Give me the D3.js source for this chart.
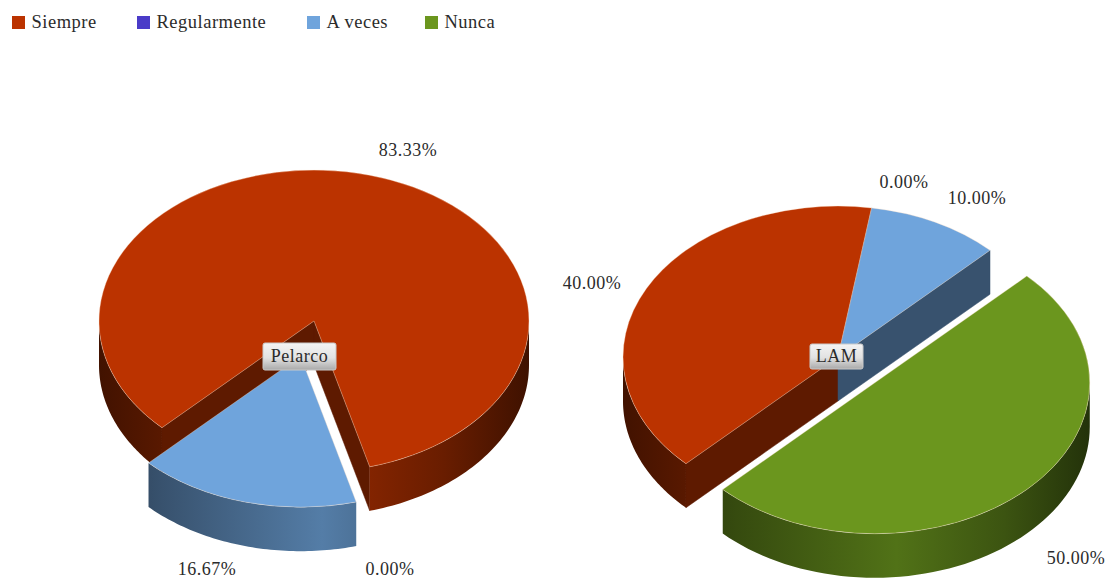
<!DOCTYPE html>
<html><head><meta charset="utf-8">
<script src="https://cdn.jsdelivr.net/npm/d3@7/dist/d3.min.js"></script>
<style>html,body{margin:0;padding:0;background:#fff;overflow:hidden}svg{display:block}
text{font-family:"Liberation Serif",serif;fill:#2b2b2b;letter-spacing:.5px}</style>
</head><body><svg id="c" width="1110" height="579"></svg>
<script>
const categories = ["Siempre","Regularmente","A veces","Nunca"];
const colors = ["#bb3300","#4a3bc8","#6fa4dc","#6b961e"];
const pelarcoValues = [83.33,0,16.67,0];
const lamValues = [40,0,10,50];
const pelarcoLabels = ["83.33%","0.00%","16.67%",null];
const lamLabels = ["40.00%","0.00%","10.00%","50.00%"];

const legendX = [12,137,307,425];
const svg = d3.select("#c"), defs = svg.append("defs");
const K = 0.702, DEPTH = 44, EXPLODE = 52, START = 5*Math.PI/4;
const pie = d3.pie().sort(null).value(d=>d).startAngle(START).endAngle(START+2*Math.PI);

const charts = [
 {name:"Pelarco",values:pelarcoValues,labels:pelarcoLabels,cx:314,cy:321,r:215,exploded:2,
  labelPos:[[408,156],[390,575],[207,575],null],box:[263,343,73,27]},
 {name:"LAM",values:lamValues,labels:lamLabels,cx:838,cy:357,r:215,exploded:3,
  labelPos:[[592,289],[904,188],[977,204],[1076,564]],box:[810,344,53,25]}
];

function shade(c,f){const o=d3.rgb(c);return d3.rgb(o.r*f,o.g*f,o.b*f).formatHex();}
colors.forEach((c,i)=>{
  const g=defs.append("linearGradient").attr("id","wall"+i).attr("gradientUnits","userSpaceOnUse")
    .attr("x1",-216).attr("x2",216).attr("y1",0).attr("y2",0);
  [[0,.35],[.18,.5],[.55,.76],[.8,.56],[1,.33]].forEach(([o,f])=>g.append("stop").attr("offset",o).attr("stop-color",shade(c,f)));
});
const bg=defs.append("linearGradient").attr("id","box").attr("x1",0).attr("x2",0).attr("y1",0).attr("y2",1);
[[0,"#f4f4f4"],[.55,"#e2e2e2"],[1,"#a9a9a9"]].forEach(([o,c])=>bg.append("stop").attr("offset",o).attr("stop-color",c));

const line=d3.line();
charts.forEach(ch=>{
  const arcs=pie(ch.values);
  const arcGen=d3.arc().innerRadius(0).outerRadius(ch.r);
  const pt=(a,r=ch.r)=>[r*Math.sin(a),-r*Math.cos(a)*K];
  const off=i=>{ if(i!==ch.exploded) return [0,0];
    const m=(arcs[i].startAngle+arcs[i].endAngle)/2; return pt(m,EXPLODE); };
  const root=svg.append("g").attr("transform",`translate(${ch.cx},${ch.cy})`);
  const order=d3.range(arcs.length).filter(i=>ch.values[i]>0);
  const drawWalls=(g,i)=>{
    const d=arcs[i];
    [[d.startAngle,d.startAngle-Math.PI/2],[d.endAngle,d.endAngle+Math.PI/2]].forEach(([a,n])=>{
      if(Math.cos(n)<-0.02){
        const p=pt(a);
        g.append("path").attr("d",line([[0,0],p,[p[0],p[1]+DEPTH],[0,DEPTH]])+"Z")
         .attr("fill",shade(colors[i],.5)).attr("stroke",shade(colors[i],.5)).attr("stroke-width",.5);
      }
    });
    const twoPi=2*Math.PI;
    for(let k=-1;k<=1;k++){
      const a0=Math.max(d.startAngle,Math.PI/2+k*twoPi), a1=Math.min(d.endAngle,3*Math.PI/2+k*twoPi);
      if(a1<=a0) continue;
      const top=d3.range(0,61).map(t=>pt(a0+(a1-a0)*t/60));
      const bottom=top.map(p=>[p[0],p[1]+DEPTH]).reverse();
      g.append("path").attr("d",line(top.concat(bottom))+"Z").attr("fill",`url(#wall${i})`);
    }
  };
  const drawTop=(g,i)=>{
    g.append("path").attr("d",arcGen(arcs[i])).attr("transform",`scale(1,${K})`)
     .attr("fill",colors[i]).attr("stroke","rgba(255,225,200,.35)").attr("stroke-width",1)
     .attr("vector-effect","non-scaling-stroke").attr("stroke-linejoin","round");
  };
  order.filter(i=>i!==ch.exploded).forEach(i=>drawWalls(root,i));
  order.filter(i=>i!==ch.exploded).forEach(i=>drawTop(root,i));
  if(ch.values[ch.exploded]>0){
    const o=off(ch.exploded);
    const g=root.append("g").attr("transform",`translate(${o[0]},${o[1]})`);
    drawWalls(g,ch.exploded); drawTop(g,ch.exploded);
  }
  const [bx,by,bw,bh]=ch.box;
  svg.append("rect").attr("x",bx).attr("y",by).attr("width",bw).attr("height",bh).attr("rx",2)
    .attr("fill","url(#box)").attr("stroke","#c9c9c9").attr("stroke-width",1);
  svg.append("text").attr("x",bx+bw/2).attr("y",by+bh/2+5.5).attr("text-anchor","middle")
    .attr("font-size",18).text(ch.name);
  ch.labels.forEach((t,i)=>{ if(t==null) return;
    svg.append("text").attr("x",ch.labelPos[i][0]).attr("y",ch.labelPos[i][1]).attr("text-anchor","middle")
      .attr("font-size",18).text(t);
  });
});

const lg=svg.append("g").selectAll("g").data(categories).join("g")
  .attr("transform",(d,i)=>`translate(${legendX[i]},0)`);
lg.append("rect").attr("y",16).attr("width",13).attr("height",13).attr("fill",(d,i)=>colors[i]);
lg.append("text").attr("x",19.5).attr("y",28).attr("font-size",18.5).text(d=>d);
</script></body></html>
